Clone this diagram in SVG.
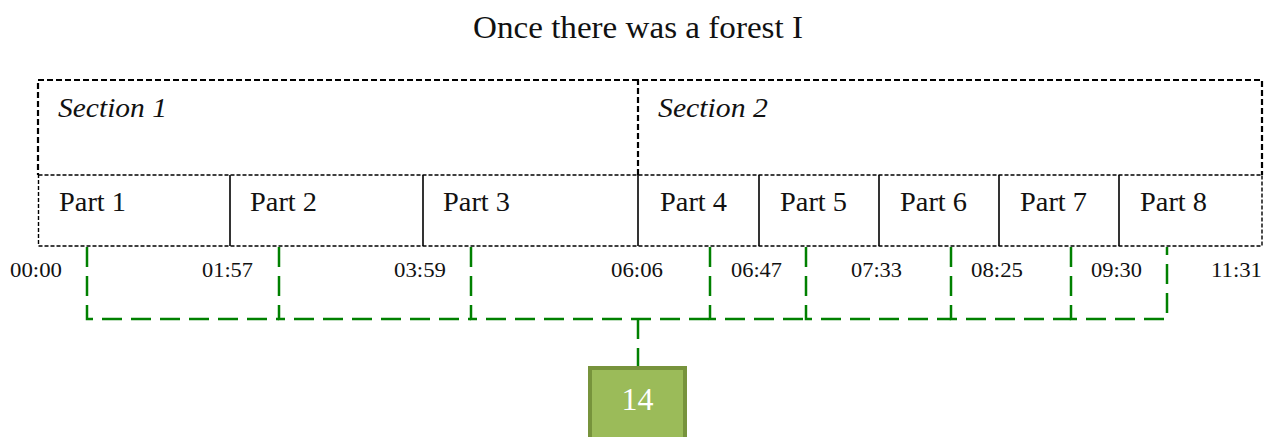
<svg xmlns="http://www.w3.org/2000/svg" width="1274" height="437" viewBox="0 0 1274 437">
  <style>
    .title { font-family: "Liberation Serif", "DejaVu Serif", serif; font-size: 31px; fill: #111; }
    .sec { font-family: "Liberation Serif", "DejaVu Serif", serif; font-size: 27px; font-style: italic; fill: #111; }
    .part { font-family: "Liberation Serif", "DejaVu Serif", serif; font-size: 27px; fill: #111; }
    .time { font-family: "Liberation Serif", "DejaVu Serif", serif; font-size: 22px; fill: #111; }
    .secbox { fill: none; stroke: #000; stroke-width: 2.2; stroke-dasharray: 6 3; }
    .partbox { fill: none; stroke: #000; stroke-width: 1.4; stroke-dasharray: 4 2; }
    .divider { stroke: #000; stroke-width: 1.6; }
    .link { fill: none; stroke: #008000; stroke-width: 2.5; stroke-dasharray: 20 9; }
    .count { fill: #9BBB59; stroke: #77933C; stroke-width: 4; }
    .countlabel { font-family: "Liberation Serif", "DejaVu Serif", serif; font-size: 32px; fill: #fff; text-anchor: middle; }
  </style>

  <text class="title" x="473" y="38" textLength="330" lengthAdjust="spacingAndGlyphs">Once there was a forest I</text>

  <!-- sections -->
  <g id="section-1">
    <path class="secbox" d="M638 80 H38 V175"/>
    <text class="sec" x="58" y="117" textLength="109" lengthAdjust="spacingAndGlyphs">Section 1</text>
  </g>
  <g id="section-2">
    <path class="secbox" d="M638 175 V80 H1262 V175"/>
    <text class="sec" x="658" y="117" textLength="110" lengthAdjust="spacingAndGlyphs">Section 2</text>
  </g>

  <!-- parts -->
  <g id="parts-frame">
    <rect class="partbox" x="38.5" y="175" width="1223.5" height="71"/>
  </g>
  <g id="part-1">
    <text class="part" x="59" y="211" textLength="67" lengthAdjust="spacingAndGlyphs">Part 1</text>
  </g>
  <g id="part-2">
    <line class="divider" x1="230" y1="175" x2="230" y2="246"/>
    <text class="part" x="250" y="211" textLength="67" lengthAdjust="spacingAndGlyphs">Part 2</text>
  </g>
  <g id="part-3">
    <line class="divider" x1="423" y1="175" x2="423" y2="246"/>
    <text class="part" x="443" y="211" textLength="67" lengthAdjust="spacingAndGlyphs">Part 3</text>
  </g>
  <g id="part-4">
    <line class="divider" x1="638" y1="175" x2="638" y2="246"/>
    <text class="part" x="660" y="211" textLength="67" lengthAdjust="spacingAndGlyphs">Part 4</text>
  </g>
  <g id="part-5">
    <line class="divider" x1="759" y1="175" x2="759" y2="246"/>
    <text class="part" x="780" y="211" textLength="67" lengthAdjust="spacingAndGlyphs">Part 5</text>
  </g>
  <g id="part-6">
    <line class="divider" x1="879" y1="175" x2="879" y2="246"/>
    <text class="part" x="900" y="211" textLength="67" lengthAdjust="spacingAndGlyphs">Part 6</text>
  </g>
  <g id="part-7">
    <line class="divider" x1="999" y1="175" x2="999" y2="246"/>
    <text class="part" x="1020" y="211" textLength="67" lengthAdjust="spacingAndGlyphs">Part 7</text>
  </g>
  <g id="part-8">
    <line class="divider" x1="1119" y1="175" x2="1119" y2="246"/>
    <text class="part" x="1140" y="211" textLength="67" lengthAdjust="spacingAndGlyphs">Part 8</text>
  </g>

  <!-- timestamps -->
  <g id="timestamps">
    <text class="time" x="10" y="277" textLength="52" lengthAdjust="spacingAndGlyphs">00:00</text>
    <text class="time" x="202" y="277" textLength="51" lengthAdjust="spacingAndGlyphs">01:57</text>
    <text class="time" x="394" y="277" textLength="52" lengthAdjust="spacingAndGlyphs">03:59</text>
    <text class="time" x="611" y="277" textLength="52" lengthAdjust="spacingAndGlyphs">06:06</text>
    <text class="time" x="731" y="277" textLength="51" lengthAdjust="spacingAndGlyphs">06:47</text>
    <text class="time" x="851" y="277" textLength="51" lengthAdjust="spacingAndGlyphs">07:33</text>
    <text class="time" x="971" y="277" textLength="52" lengthAdjust="spacingAndGlyphs">08:25</text>
    <text class="time" x="1091" y="277" textLength="51" lengthAdjust="spacingAndGlyphs">09:30</text>
    <text class="time" x="1211" y="277" textLength="51" lengthAdjust="spacingAndGlyphs">11:31</text>
  </g>

  <!-- connectors -->
  <g id="connectors">
    <path class="link" d="M87 247 V319 H279"/>
    <path class="link" d="M279 247 V319 H471"/>
    <path class="link" d="M471 247 V319 H710"/>
    <path class="link" d="M710 247 V319 H806"/>
    <path class="link" d="M806 247 V319 H951"/>
    <path class="link" d="M951 247 V319 H1071"/>
    <path class="link" d="M1071 247 V319 H1167 V247"/>
    <path class="link" d="M638 319 V366"/>
  </g>

  <!-- total -->
  <g id="total">
    <rect class="count" x="590" y="368" width="95" height="80"/>
    <text class="countlabel" x="637.5" y="410">14</text>
  </g>
</svg>
